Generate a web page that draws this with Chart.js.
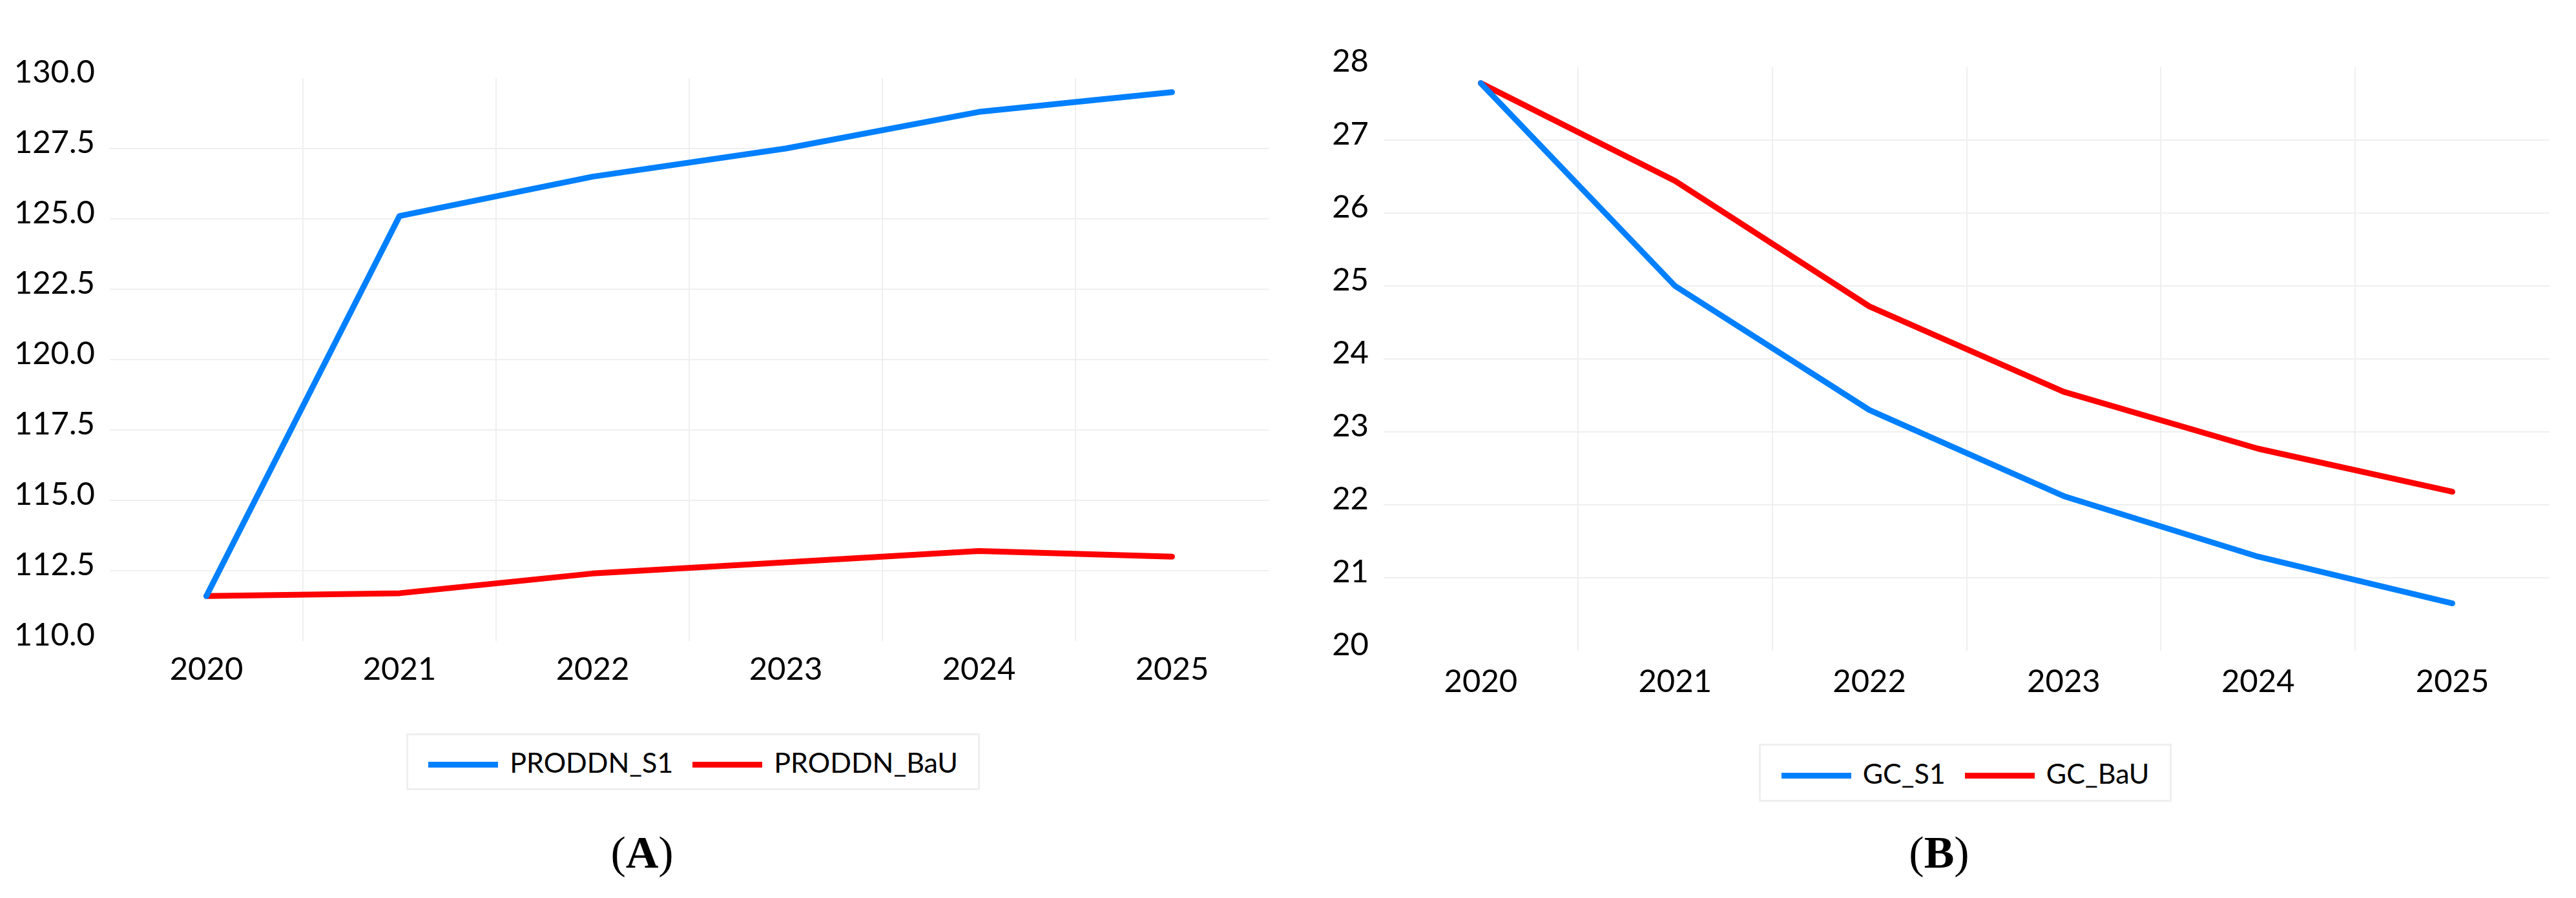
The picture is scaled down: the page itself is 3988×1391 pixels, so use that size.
<!DOCTYPE html>
<html>
<head>
<meta charset="utf-8">
<script src="https://cdn.jsdelivr.net/npm/chart.js@4.4.1/dist/chart.umd.min.js"></script>
<style>
  html, body { margin: 0; padding: 0; background: #ffffff; }
  body { width: 3988px; height: 1391px; position: relative; overflow: hidden; font-family: Lato, "Open Sans", sans-serif; }
  .wrap { position: absolute; }
  .legend { position: absolute; box-sizing: border-box; border: 3px solid #efefef; display: flex; align-items: center; justify-content: center; background: #fff; }
  .item { display: flex; align-items: center; font-family: Lato, sans-serif; font-size: 43px; color: #000; white-space: nowrap; }
  .item + .item { margin-left: 30px; }
  .sw { width: 108px; height: 9px; margin-right: 18px; margin-top: 8px; }
  .cap { position: absolute; width: 200px; text-align: center; font-family: "Liberation Serif", "Times New Roman", serif; font-size: 70px; line-height: 70px; color: #000; }
</style>
</head>
<body>
<div class="wrap" style="left:0;top:0;width:2000px;height:1100px;"><canvas id="cA" width="2000" height="1100"></canvas></div>
<div class="wrap" style="left:2000px;top:0;width:1988px;height:1100px;"><canvas id="cB" width="1988" height="1100"></canvas></div>
<div id="legA" class="legend" style="left:629px;top:1136px;width:888px;height:88px;"></div>
<div id="legB" class="legend" style="left:2723px;top:1152px;width:639px;height:90px;"></div>
<div class="cap" style="left:894px;top:1286px;">(<b>A</b>)</div>
<div class="cap" style="left:2902px;top:1286px;">(<b>B</b>)</div>
<script>
// ---- data ----
const years = ['2020', '2021', '2022', '2023', '2024', '2025'];
const proddnS1 = [111.6, 125.1, 126.5, 127.5, 128.8, 129.5];
const proddnBaU = [111.6, 111.7, 112.4, 112.8, 113.2, 113.0];
const gcS1 = [27.78, 25.0, 23.3, 22.12, 21.29, 20.65];
const gcBaU = [27.78, 26.44, 24.72, 23.55, 22.77, 22.18];
const labelsA = ['PRODDN_S1', 'PRODDN_BaU'];
const labelsB = ['GC_S1', 'GC_BaU'];
const colors = ['#0080FF', '#FF0000'];

const FONT = 'Lato';
const gridCol = '#efefef';

function innerGrid(ctx) {
  if (ctx.type !== 'tick') return 'rgba(0,0,0,0)';
  if (ctx.index === 0) return 'rgba(0,0,0,0)';
  return gridCol;
}

function makeChart(id, labels, s1, bau, names, cfg) {
  const ds = [s1, bau].map((d, i) => ({
    label: names[i],
    data: d,
    borderColor: colors[i],
    backgroundColor: colors[i],
    borderWidth: 9,
    pointRadius: 0,
    pointHoverRadius: 0,
    tension: 0,
    fill: false,
    borderCapStyle: 'round',
    borderJoinStyle: 'round'
  }));
  return new Chart(document.getElementById(id), {
    type: 'line',
    data: { labels: labels, datasets: ds },
    options: {
      responsive: false,
      devicePixelRatio: 1,
      animation: false,
      events: [],
      layout: { padding: { left: 0, top: cfg.top, right: cfg.right, bottom: cfg.bottom } },
      plugins: { legend: { display: false }, tooltip: { enabled: false } },
      scales: {
        x: {
          type: 'category',
          offset: true,
          border: { display: false },
          grid: { offset: true, drawTicks: false, lineWidth: 2, color: innerGrid },
          ticks: { color: '#000', font: { family: FONT, size: 49 }, padding: cfg.xpad, maxRotation: 0, autoSkip: false },
          afterFit: (s) => { s.height = cfg.xh; }
        },
        y: {
          min: cfg.min, max: cfg.max,
          border: { display: false },
          grid: { drawTicks: false, lineWidth: 2, color: (ctx) => {
            if (ctx.type !== 'tick') return 'rgba(0,0,0,0)';
            const v = ctx.tick.value;
            if (v <= cfg.min || v >= cfg.max) return 'rgba(0,0,0,0)';
            return gridCol;
          } },
          ticks: { stepSize: cfg.step, color: '#000', font: { family: FONT, size: 49 }, padding: 23, labelOffset: -9,
                   callback: (v) => Number(v).toFixed(cfg.dec) },
          afterFit: (s) => { s.width = cfg.yw; }
        }
      }
    }
  });
}

function makeLegend(id, names) {
  const el = document.getElementById(id);
  names.forEach((n, i) => {
    const it = document.createElement('div');
    it.className = 'item';
    const sw = document.createElement('span');
    sw.className = 'sw';
    sw.style.background = colors[i];
    const tx = document.createElement('span');
    tx.textContent = n;
    it.appendChild(sw); it.appendChild(tx);
    el.appendChild(it);
  });
}

makeChart('cA', years, proddnS1, proddnBaU, labelsA,
  { top: 121, right: 36, bottom: 7, xh: 100, xpad: 15, yw: 170, min: 110, max: 130, step: 2.5, dec: 1 });
makeChart('cB', years, gcS1, gcBaU, labelsB,
  { top: 104, right: 41, bottom: 2, xh: 90, xpad: 19, yw: 142, min: 20, max: 28, step: 1, dec: 0 });
makeLegend('legA', labelsA);
makeLegend('legB', labelsB);
</script>
</body>
</html>
